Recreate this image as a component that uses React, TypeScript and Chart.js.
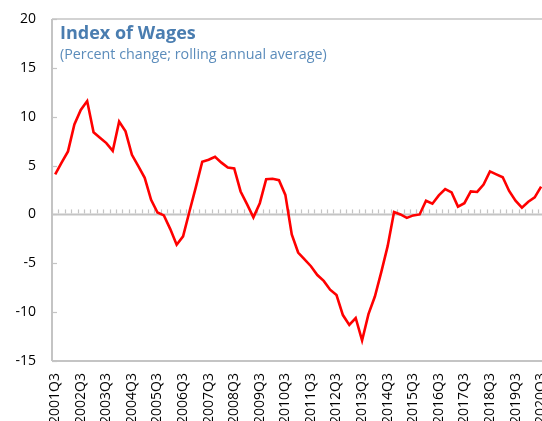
import React, { useEffect, useRef } from "react";
import { Chart, registerables } from "chart.js";

Chart.register(...registerables);

const categories: string[] = [
  "2001Q3","2001Q4","2002Q1","2002Q2","2002Q3","2002Q4","2003Q1","2003Q2",
  "2003Q3","2003Q4","2004Q1","2004Q2","2004Q3","2004Q4","2005Q1","2005Q2",
  "2005Q3","2005Q4","2006Q1","2006Q2","2006Q3","2006Q4","2007Q1","2007Q2",
  "2007Q3","2007Q4","2008Q1","2008Q2","2008Q3","2008Q4","2009Q1","2009Q2",
  "2009Q3","2009Q4","2010Q1","2010Q2","2010Q3","2010Q4","2011Q1","2011Q2",
  "2011Q3","2011Q4","2012Q1","2012Q2","2012Q3","2012Q4","2013Q1","2013Q2",
  "2013Q3","2013Q4","2014Q1","2014Q2","2014Q3","2014Q4","2015Q1","2015Q2",
  "2015Q3","2015Q4","2016Q1","2016Q2","2016Q3","2016Q4","2017Q1","2017Q2",
  "2017Q3","2017Q4","2018Q1","2018Q2","2018Q3","2018Q4","2019Q1","2019Q2",
  "2019Q3","2019Q4","2020Q1","2020Q2","2020Q3",
];

const wages: number[] = [
  4.1, 5.3, 6.45, 9.2, 10.7, 11.6, 8.4, 7.85,
  7.3, 6.5, 9.5, 8.5, 6.1, 4.95, 3.75, 1.5,
  0.2, -0.1, -1.5, -3.1, -2.25, 0.3, 2.8, 5.4,
  5.6, 5.9, 5.3, 4.8, 4.7, 2.35, 1.05, -0.3,
  1.15, 3.6, 3.65, 3.5, 2.0, -2.05, -3.9, -4.6,
  -5.3, -6.2, -6.8, -7.7, -8.25, -10.3, -11.3, -10.6,
  -12.9, -10.2, -8.4, -5.9, -3.25, 0.25, 0.0, -0.35,
  -0.1, 0.0, 1.4, 1.1, 1.95, 2.6, 2.25, 0.8,
  1.15, 2.35, 2.3, 3.05, 4.4, 4.1, 3.8, 2.4,
  1.4, 0.7, 1.3, 1.75, 2.85,
];

const yTicks: number[] = [-15, -10, -5, 0, 5, 10, 15, 20];

const TITLE = "Index of Wages";
const SUBTITLE = "(Percent change; rolling annual average)";

const FONT = "'Open Sans', 'Noto Sans', sans-serif";
const AXIS_GREY = "#c4c4c4";

const framePlugin = {
  id: "frame",
  beforeDatasetsDraw(chart: any) {
    const { ctx, chartArea } = chart;
    const { left, right, top, bottom } = chartArea;
    const x = chart.scales.x;
    const y = chart.scales.y;
    ctx.save();
    ctx.strokeStyle = AXIS_GREY;
    ctx.lineWidth = 1.5;
    ctx.beginPath();
    ctx.moveTo(left, top);
    ctx.lineTo(right + 20, top);
    ctx.stroke();
    ctx.lineWidth = 2;
    ctx.beginPath();
    ctx.moveTo(left, bottom);
    ctx.lineTo(right + 20, bottom);
    ctx.stroke();
    ctx.beginPath();
    ctx.moveTo(left, top);
    ctx.lineTo(left, bottom);
    ctx.stroke();
    ctx.lineWidth = 1.2;
    yTicks.forEach((v) => {
      const py = Math.round(y.getPixelForValue(v)) + 0.5;
      ctx.beginPath();
      ctx.moveTo(left, py);
      ctx.lineTo(left + 5, py);
      ctx.stroke();
    });
    const zy = y.getPixelForValue(0);
    ctx.lineWidth = 2;
    ctx.beginPath();
    ctx.moveTo(left, zy);
    ctx.lineTo(right + 20, zy);
    ctx.stroke();
    ctx.lineWidth = 1.2;
    ctx.strokeStyle = "#c4c4c4";
    const step = x.getPixelForValue(1) - x.getPixelForValue(0);
    for (let i = 0; i <= categories.length; i++) {
      const px = Math.round(x.getPixelForValue(i) - step / 2) + 0.5;
      ctx.beginPath();
      ctx.moveTo(px, zy - 1);
      ctx.lineTo(px, zy - 5);
      ctx.stroke();
    }
    ctx.restore();
  },
};

export default function App() {
  const ref = useRef<HTMLCanvasElement | null>(null);

  useEffect(() => {
    if (!ref.current) return;
    const chart = new Chart(ref.current, {
      type: "line",
      data: {
        labels: categories,
        datasets: [
          {
            data: wages,
            borderColor: "#ff0000",
            borderWidth: 2.6,
            pointRadius: 0,
            tension: 0,
            fill: false,
          },
        ],
      },
      options: {
        animation: false,
        responsive: false,
        devicePixelRatio: 1,
        layout: { padding: { top: 19, right: 16, left: 0, bottom: 0 } },
        plugins: {
          legend: { display: false },
          tooltip: { enabled: false },
          title: { display: false },
        },
        scales: {
          x: {
            type: "category",
            offset: true,
            grid: { display: false, drawTicks: false },
            border: { display: false },
            ticks: {
              autoSkip: false,
              minRotation: 90,
              maxRotation: 90,
              padding: 12,
              color: "#000000",
              font: { family: FONT, size: 14 },
              callback: (_v: any, i: number) => (i % 4 === 0 ? categories[i] : ""),
            },
            afterFit: (s: any) => {
              s.height = 60;
            },
          },
          y: {
            min: -15,
            max: 20,
            grid: { display: false, drawTicks: true, tickLength: 16 },
            border: { display: false },
            ticks: {
              stepSize: 5,
              padding: 0,
              color: "#000000",
              font: { family: FONT, size: 14 },
            },
            afterFit: (s: any) => {
              s.width = 52;
            },
          },
        },
      },
      plugins: [framePlugin],
    });
    return () => chart.destroy();
  }, []);

  return (
    <div
      style={{
        position: "fixed",
        left: 0,
        top: 0,
        width: 542,
        height: 421,
        overflow: "hidden",
        background: "#ffffff",
      }}
    >
      <canvas ref={ref} width={570} height={421} style={{ display: "block" }} />
      <div
        style={{
          position: "absolute",
          left: 60,
          top: 23,
          fontFamily: FONT,
          fontWeight: 700,
          fontSize: 18,
          lineHeight: "18px",
          color: "#4a7db0",
          whiteSpace: "nowrap",
        }}
      >
        {TITLE}
      </div>
      <div
        style={{
          position: "absolute",
          left: 60,
          top: 47,
          fontFamily: FONT,
          fontSize: 14.3,
          lineHeight: "14.3px",
          color: "#5b8cbb",
          whiteSpace: "nowrap",
        }}
      >
        {SUBTITLE}
      </div>
    </div>
  );
}
